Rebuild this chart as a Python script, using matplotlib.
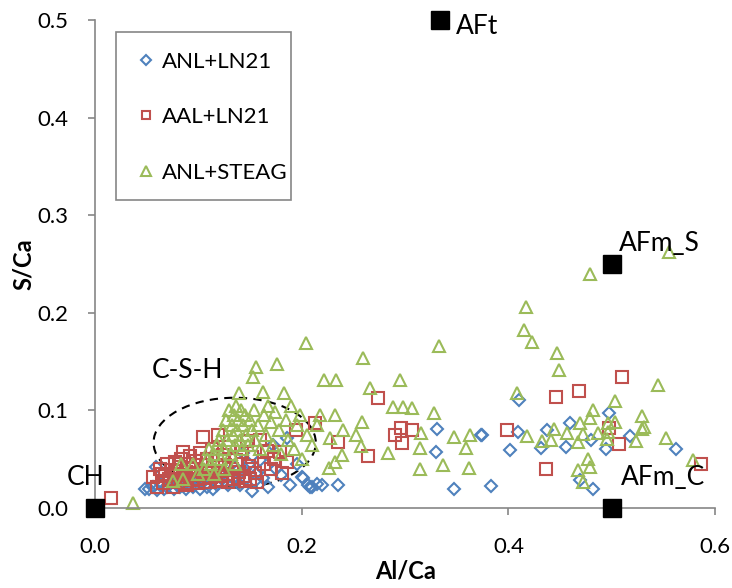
import numpy as np
import matplotlib
matplotlib.use('Agg')
import matplotlib.pyplot as plt
from matplotlib.patches import Ellipse, Rectangle

plt.rcParams['font.family'] = ['Lato', 'DejaVu Sans']

# ANL+LN21 (Al/Ca, S/Ca)
anl_ln21_x = [0.048, 0.052, 0.056, 0.059, 0.060, 0.064, 0.067, 0.070, 0.073, 0.076,
              0.079, 0.082, 0.085, 0.088, 0.091, 0.095, 0.098, 0.101, 0.104, 0.108,
              0.111, 0.114, 0.118, 0.121, 0.125, 0.129, 0.133, 0.137, 0.140, 0.143,
              0.146, 0.149, 0.152, 0.156, 0.160, 0.162, 0.167, 0.172, 0.175, 0.180,
              0.186, 0.189, 0.195, 0.200, 0.206, 0.210, 0.215, 0.220, 0.095, 0.105,
              0.115, 0.125, 0.135, 0.145, 0.155, 0.201, 0.208, 0.235, 0.330, 0.331,
              0.347, 0.373, 0.383, 0.410, 0.497, 0.460, 0.409, 0.437, 0.374, 0.518,
              0.480, 0.456, 0.431, 0.401, 0.494, 0.562, 0.469, 0.482]
anl_ln21_y = [0.019, 0.019, 0.022, 0.042, 0.018, 0.025, 0.020, 0.022, 0.027, 0.019,
              0.024, 0.022, 0.028, 0.020, 0.025, 0.022, 0.030, 0.019, 0.027, 0.022,
              0.032, 0.020, 0.024, 0.035, 0.028, 0.024, 0.031, 0.038, 0.024, 0.056,
              0.030, 0.045, 0.017, 0.035, 0.049, 0.031, 0.022, 0.065, 0.040, 0.034,
              0.072, 0.024, 0.045, 0.032, 0.024, 0.022, 0.025, 0.024, 0.035, 0.033,
              0.030, 0.036, 0.042, 0.040, 0.028, 0.031, 0.022, 0.024, 0.057, 0.081,
              0.019, 0.075, 0.023, 0.111, 0.097, 0.087, 0.078, 0.080, 0.075, 0.074,
              0.070, 0.063, 0.061, 0.059, 0.060, 0.060, 0.029, 0.019]

# AAL+LN21
aal_ln21_x = [0.015, 0.056, 0.060, 0.063, 0.066, 0.068, 0.070, 0.072, 0.073, 0.075,
              0.077, 0.078, 0.080, 0.082, 0.083, 0.085, 0.086, 0.088, 0.089, 0.091,
              0.092, 0.094, 0.095, 0.097, 0.098, 0.100, 0.101, 0.102, 0.104, 0.105,
              0.107, 0.108, 0.110, 0.111, 0.113, 0.114, 0.116, 0.118, 0.119, 0.120,
              0.122, 0.124, 0.126, 0.128, 0.130, 0.132, 0.134, 0.136, 0.139, 0.142,
              0.144, 0.147, 0.149, 0.152, 0.155, 0.157, 0.160, 0.163, 0.166, 0.170,
              0.173, 0.179, 0.181, 0.186, 0.194, 0.213, 0.274, 0.296, 0.307, 0.290,
              0.297, 0.235, 0.264, 0.510, 0.468, 0.446, 0.399, 0.497, 0.507, 0.436,
              0.586, 0.065, 0.071, 0.079, 0.087, 0.093, 0.099, 0.106, 0.112, 0.117,
              0.123, 0.129, 0.138, 0.145, 0.150]
aal_ln21_y = [0.010, 0.032, 0.022, 0.040, 0.026, 0.033, 0.045, 0.029, 0.039, 0.022,
              0.047, 0.034, 0.027, 0.042, 0.050, 0.057, 0.031, 0.037, 0.024, 0.045,
              0.053, 0.029, 0.040, 0.034, 0.048, 0.026, 0.056, 0.038, 0.073, 0.031,
              0.044, 0.050, 0.036, 0.027, 0.060, 0.042, 0.033, 0.048, 0.075, 0.038,
              0.029, 0.054, 0.044, 0.035, 0.063, 0.040, 0.030, 0.049, 0.037, 0.057,
              0.033, 0.069, 0.043, 0.052, 0.036, 0.027, 0.070, 0.045, 0.058, 0.040,
              0.050, 0.057, 0.036, 0.047, 0.080, 0.087, 0.113, 0.082, 0.080, 0.075,
              0.067, 0.068, 0.053, 0.134, 0.120, 0.114, 0.080, 0.082, 0.066, 0.040,
              0.045, 0.035, 0.030, 0.038, 0.026, 0.034, 0.030, 0.027, 0.032, 0.028,
              0.033, 0.027, 0.031, 0.028, 0.030]

# ANL+STEAG
anl_steag_x = [0.037, 0.075, 0.083, 0.085, 0.095, 0.100, 0.105, 0.108, 0.110, 0.112,
               0.115, 0.115, 0.118, 0.120, 0.122, 0.124, 0.125, 0.125, 0.127, 0.128,
               0.130, 0.131, 0.132, 0.133, 0.134, 0.135, 0.135, 0.136, 0.137, 0.138,
               0.139, 0.140, 0.141, 0.142, 0.143, 0.145, 0.146, 0.148, 0.150, 0.152,
               0.153, 0.154, 0.155, 0.156, 0.158, 0.160, 0.162, 0.163, 0.165, 0.167,
               0.170, 0.172, 0.174, 0.176, 0.178, 0.180, 0.183, 0.185, 0.187, 0.190,
               0.192, 0.195, 0.198, 0.200, 0.204, 0.205, 0.210, 0.215, 0.218, 0.221,
               0.226, 0.227, 0.232, 0.232, 0.233, 0.239, 0.240, 0.252, 0.257, 0.258,
               0.259, 0.266, 0.283, 0.288, 0.295, 0.298, 0.307, 0.314, 0.315, 0.314,
               0.328, 0.333, 0.337, 0.347, 0.359, 0.362, 0.363, 0.555, 0.479, 0.417,
               0.415, 0.423, 0.447, 0.449, 0.545, 0.408, 0.503, 0.482, 0.529, 0.479,
               0.469, 0.496, 0.503, 0.531, 0.529, 0.444, 0.418, 0.457, 0.472, 0.487,
               0.496, 0.441, 0.432, 0.467, 0.495, 0.523, 0.552, 0.477, 0.479, 0.467,
               0.472, 0.579]
anl_steag_y = [0.005, 0.028, 0.045, 0.030, 0.045, 0.035, 0.040, 0.050, 0.060, 0.045,
               0.055, 0.035, 0.065, 0.070, 0.050, 0.080, 0.060, 0.040, 0.090, 0.070,
               0.100, 0.055, 0.085, 0.075, 0.095, 0.065, 0.045, 0.105, 0.080, 0.090,
               0.118, 0.070, 0.100, 0.060, 0.085, 0.095, 0.075, 0.065, 0.090, 0.080,
               0.134, 0.100, 0.070, 0.145, 0.085, 0.060, 0.119, 0.095, 0.075, 0.105,
               0.088, 0.065, 0.098, 0.148, 0.080, 0.055, 0.118, 0.090, 0.070, 0.105,
               0.060, 0.085, 0.095, 0.050, 0.169, 0.075, 0.065, 0.085, 0.095, 0.131,
               0.041, 0.072, 0.047, 0.095, 0.131, 0.054, 0.080, 0.075, 0.064, 0.088,
               0.154, 0.123, 0.056, 0.103, 0.131, 0.103, 0.102, 0.061, 0.077, 0.040,
               0.097, 0.166, 0.044, 0.073, 0.061, 0.041, 0.075, 0.262, 0.240, 0.206,
               0.182, 0.170, 0.159, 0.141, 0.126, 0.118, 0.110, 0.100, 0.094, 0.092,
               0.087, 0.087, 0.088, 0.083, 0.081, 0.081, 0.074, 0.077, 0.076, 0.077,
               0.078, 0.070, 0.069, 0.068, 0.071, 0.069, 0.072, 0.050, 0.042, 0.039,
               0.027, 0.049]

# reference phases
phase_names = ['CH', 'AFt', 'AFm_S', 'AFm_C']
phase_x = [0.0, 1 / 3, 0.5, 0.5]
phase_y = [0.0, 0.5, 0.25, 0.0]

blue = '#4F81BD'
red = '#C0504D'
green = '#9BBB59'
gray = '#868686'

fig = plt.figure(figsize=(7.32, 5.88), dpi=100)
ax = fig.add_axes([0.13, 0.136, 0.847, 0.83])

ax.plot(anl_ln21_x, anl_ln21_y, 'D', ms=6.5, mfc='none', mec=blue, mew=1.5,
        label='ANL+LN21', clip_on=False)
ax.plot(aal_ln21_x, aal_ln21_y, 's', ms=8, mfc='none', mec=red, mew=1.5,
        label='AAL+LN21', clip_on=False)
ax.plot(anl_steag_x, anl_steag_y, '^', ms=9, mfc='none', mec=green, mew=1.5,
        label='ANL+STEAG', clip_on=False)
ax.plot(phase_x, phase_y, 's', ms=13, color='black', clip_on=False, zorder=5)

ell = Ellipse((0.135, 0.067), 0.157, 0.092, fill=False, ls=(0, (4, 3)),
              lw=1.5, color='black')
ax.add_patch(ell)

fs = 19
ax.text(-0.0097, 0.031, 'CH', fontsize=fs, ha='center', va='center')
ax.text(0.349, 0.493, 'AFt', fontsize=fs, ha='left', va='center')
ax.text(0.546, 0.2715, 'AFm_S', fontsize=fs, ha='center', va='center')
ax.text(0.550, 0.031, 'AFm_C', fontsize=fs, ha='center', va='center')
ax.text(0.089, 0.141, 'C-S-H', fontsize=fs, ha='center', va='center')

ax.set_xlim(0, 0.6)
ax.set_ylim(0, 0.5)
ax.set_xticks([0, 0.2, 0.4, 0.6])
ax.set_xticklabels(['0.0', '0.2', '0.4', '0.6'])
ax.set_yticks(np.arange(0, 0.51, 0.1))
ax.set_yticklabels(['0.0', '0.1', '0.2', '0.3', '0.4', '0.5'])
ax.tick_params(labelsize=16, color=gray, length=5, width=1.2)
ax.tick_params(axis='x', pad=16)
ax.tick_params(axis='y', pad=14)
ax.spines['top'].set_visible(False)
ax.spines['right'].set_visible(False)
ax.spines['left'].set_color(gray)
ax.spines['bottom'].set_color(gray)
ax.spines['left'].set_linewidth(1.2)
ax.spines['bottom'].set_linewidth(1.2)

ax.set_xlabel('Al/Ca', fontsize=17, fontweight='bold', labelpad=2)
ax.set_ylabel('S/Ca', fontsize=17, fontweight='bold', labelpad=2)

# legend box drawn by hand so the padding matches
box = Rectangle((0.034, 0.631), 0.282, 0.344, transform=ax.transAxes,
                fill=True, facecolor='white', edgecolor=gray, lw=1.2, zorder=6)
ax.add_patch(box)
leg = ax.legend(loc='upper left', bbox_to_anchor=(0.068, 0.935), fontsize=16,
                frameon=False, labelspacing=1.6, borderpad=0,
                borderaxespad=0, handletextpad=0.3, markerscale=0.75,
                handlelength=0.8)
leg.set_zorder(7)

fig.savefig('out.png', dpi=100)
